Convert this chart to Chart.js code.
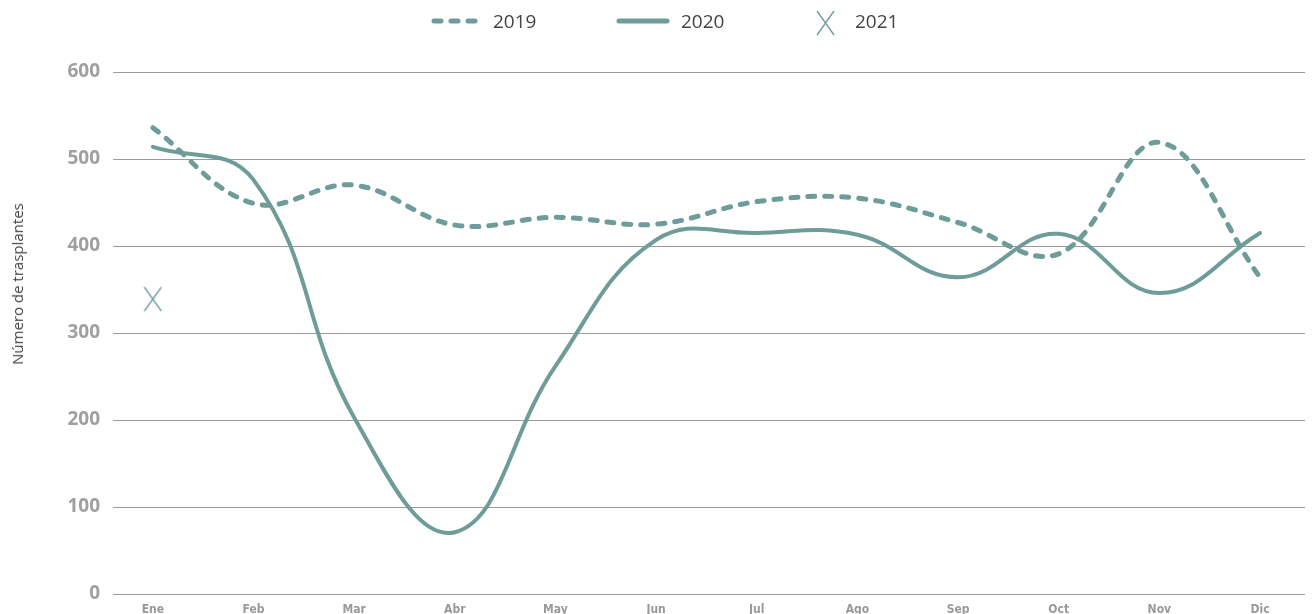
<!DOCTYPE html>
<html>
<head>
<meta charset="utf-8">
<script src="https://cdn.jsdelivr.net/npm/chart.js@4/dist/chart.umd.min.js"></script>
<style>
  html, body { margin: 0; padding: 0; background: #ffffff; }
  #wrap { position: relative; width: 1316px; height: 614px; overflow: hidden; }
  #c { position: absolute; left: 0; top: 0; }
  .lg { position: absolute; font-family: 'Open Sans', sans-serif; font-size: 19px; color: #444444; line-height: 1; }
  .ytitle { position: absolute; left: 17px; top: 284px; transform: translate(-50%, -50%) rotate(-90deg);
            font-family: 'Open Sans', sans-serif; font-size: 15px; color: #444444; white-space: nowrap; }
</style>
</head>
<body>
<div id="wrap">
  <canvas id="c" width="1316" height="614"></canvas>
  <canvas id="lg2019" class="lg" width="50" height="14" style="left:429px;top:14px"></canvas>
  <div class="lg" style="left:493px;top:12px">2019</div>
  <canvas id="lg2020" class="lg" width="56" height="14" style="left:615px;top:14px"></canvas>
  <div class="lg" style="left:681px;top:12px">2020</div>
  <canvas id="lg2021" class="lg" width="22" height="30" style="left:815px;top:8px"></canvas>
  <div class="lg" style="left:855px;top:12px">2021</div>
  <div class="ytitle">Número de trasplantes</div>
</div>
<script>
// ---- data ----
const months = ['Ene','Feb','Mar','Abr','May','Jun','Jul','Ago','Sep','Oct','Nov','Dic'];
const values2019 = [536, 449, 470, 424, 433, 425, 451, 455, 427, 391, 519, 364];
const values2020 = [514, 476, 203, 71, 262, 407, 415, 413, 364, 414, 346, 415];
const values2021 = [339];
const yTicks = [0, 100, 200, 300, 400, 500, 600];

const teal = '#6e9c99';

// ---- point style for 2021 (thin X, taller than wide) ----
function makeX(w, h, lw) {
  const cv = document.createElement('canvas');
  cv.width = w; cv.height = h;
  const g = cv.getContext('2d');
  g.strokeStyle = teal; g.lineWidth = lw;
  g.beginPath();
  g.moveTo(1, 1); g.lineTo(w - 1, h - 1);
  g.moveTo(w - 1, 1); g.lineTo(1, h - 1);
  g.stroke();
  return cv;
}
const xMark = makeX(19, 26, 1.3);

// legend samples
(function () {
  let g = document.getElementById('lg2019').getContext('2d');
  g.strokeStyle = teal; g.lineWidth = 5; g.lineCap = 'round';
  g.setLineDash([7, 10]);
  g.beginPath(); g.moveTo(5, 7); g.lineTo(48, 7); g.stroke();
  g = document.getElementById('lg2020').getContext('2d');
  g.strokeStyle = teal; g.lineWidth = 5; g.lineCap = 'round';
  g.beginPath(); g.moveTo(4, 7); g.lineTo(52, 7); g.stroke();
  g = document.getElementById('lg2021').getContext('2d');
  g.drawImage(makeX(19, 26, 1.3), 1, 2);
})();

const toXY = arr => arr.map((v, i) => ({ x: i, y: v }));

new Chart(document.getElementById('c'), {
  type: 'line',
  data: {
    datasets: [
      {
        label: '2019',
        data: toXY(values2019),
        borderColor: teal,
        borderWidth: 5,
        borderDash: [7, 10],
        borderCapStyle: 'round',
        tension: 0.38,
        pointRadius: 0,
        fill: false
      },
      {
        label: '2020',
        data: toXY(values2020),
        borderColor: teal,
        borderWidth: 4,
        borderCapStyle: 'round',
        tension: 0.42,
        pointRadius: 0,
        fill: false
      },
      {
        label: '2021',
        data: toXY(values2021),
        showLine: false,
        pointStyle: xMark,
        pointRadius: 10,
        borderColor: teal,
        backgroundColor: teal
      }
    ]
  },
  options: {
    responsive: false,
    animation: false,
    devicePixelRatio: 1,
    layout: { padding: { top: 72, right: 8, left: 0, bottom: 0 } },
    plugins: { legend: { display: false }, tooltip: { enabled: false } },
    scales: {
      x: {
        type: 'linear',
        min: -0.396,
        max: 11.447,
        afterBuildTicks: s => { s.ticks = months.map((m, i) => ({ value: i })); },
        afterFit: s => { s.height = 20; s.paddingLeft = 0; s.paddingRight = 0; },
        grid: { display: false, drawTicks: false },
        border: { display: false },
        ticks: {
          autoSkip: false,
          maxRotation: 0,
          padding: 9,
          color: '#999999',
          font: { family: "'Liberation Sans Narrow', 'DejaVu Sans Condensed', 'Open Sans', sans-serif", size: 12, weight: 'bold' },
          callback: v => months[v]
        }
      },
      y: {
        min: 0,
        max: 600,
        afterBuildTicks: s => { s.ticks = yTicks.map(v => ({ value: v })); },
        afterFit: s => { s.width = 113; s.paddingTop = 0; s.paddingBottom = 0; },
        grid: { color: '#9b9b9b', lineWidth: 1, drawTicks: false },
        border: { display: false },
        ticks: {
          padding: 13,
          color: '#a0a0a0',
          font: { family: "'Open Sans', sans-serif", size: 19, weight: 'bold' }
        }
      }
    }
  }
});
</script>
</body>
</html>
